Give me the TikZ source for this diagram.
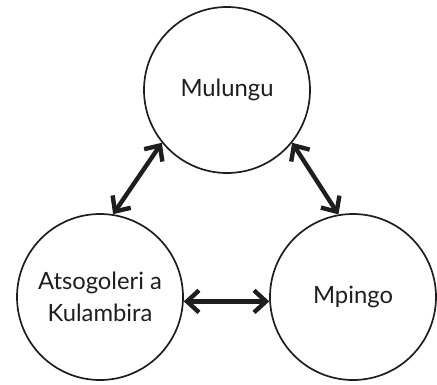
\documentclass[tikz,border=0pt]{standalone}
\usepackage{fontspec}
\setmainfont{Lato}
\usetikzlibrary{arrows.meta}
\definecolor{ink}{HTML}{1E1E1E}
\begin{document}
\begin{tikzpicture}[x=1pt,y=1pt,
  entity/.style={circle,draw=ink,text=ink,line width=1.7pt,minimum size=166pt,inner sep=0pt,
    align=center,font=\fontsize{23.8}{32}\selectfont},
  link/.style={draw=ink,line width=4.4pt,{Straight Barb[length=12pt,width=22pt]}-{Straight Barb[length=12pt,width=22pt]}}]
  \useasboundingbox (0,0) rectangle (437,-384);
  \node[entity] (mulungu) at (227,-90) {Mulungu};
  \node[entity] (atsogoleri) at (100,-297) {Atsogoleri a\\Kulambira};
  \node[entity] (mpingo) at (353,-297) {Mpingo};
  \draw[link] (mulungu.219) -- (atsogoleri.81);
  \draw[link] (mulungu.321) -- (mpingo.100);
  \draw[link] (atsogoleri.-3) -- (mpingo.183);
\end{tikzpicture}
\end{document}
